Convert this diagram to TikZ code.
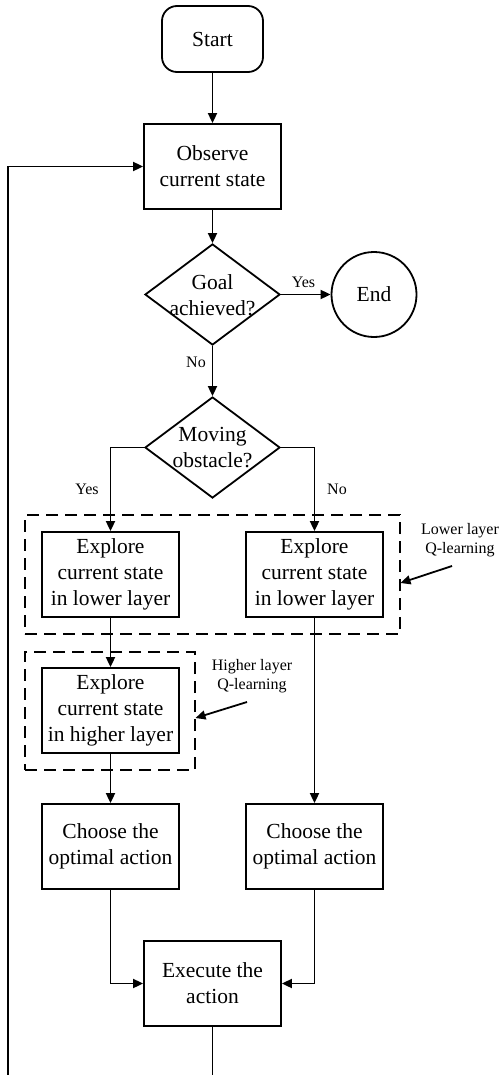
\documentclass[tikz,border=0pt]{standalone}
\usepackage{fontspec}
\setmainfont{Liberation Serif}
\usetikzlibrary{shapes.geometric,arrows.meta}
\begin{document}
\begin{tikzpicture}[x=1pt,y=-1pt,
  box/.style={draw, line width=1.8pt, minimum width=137pt, minimum height=85pt, inner sep=0pt, align=center, font=\fontsize{21.5}{26}\selectfont},
  dec/.style={draw, diamond, line width=1.8pt, minimum width=135pt, minimum height=101pt, inner sep=0pt},
  txt/.style={align=center, inner sep=0pt, font=\fontsize{21.5}{26}\selectfont},
  small/.style={align=center, inner sep=0pt, font=\fontsize{16}{19}\selectfont},
  arr/.style={line width=1.8pt, -{Triangle[length=10pt,width=9pt]}},
  dbox/.style={draw, line width=1.8pt, dash pattern=on 12pt off 7pt, inner sep=0pt}]
\useasboundingbox (0,0) rectangle (501,1075);

\node[box, rounded corners=15pt, minimum width=101pt, minimum height=66pt] (start) at (212.5,39) {Start};
\node[box] (obs) at (212.5,166.5) {Observe\\current state};
\node[dec] (goal) at (212.5,294.5) {};
\node[txt] (goaltxt) at (212.5,295) {Goal\\achieved?};
\node[draw, circle, line width=1.8pt, minimum size=85pt, inner sep=0pt, font=\fontsize{21.5}{26}\selectfont] (end) at (374,294.5) {End};
\node[dec] (mov) at (212.5,447.5) {};
\node[txt] (movtxt) at (212.5,448) {Moving\\obstacle?};

\node[dbox, minimum width=375pt, minimum height=119pt] (lowbox) at (212.5,574.5) {};
\node[dbox, minimum width=170pt, minimum height=118pt] (highbox) at (110,711) {};

\node[box] (exp1) at (110.5,574.5) {Explore\\current state\\in lower layer};
\node[box] (exp2) at (314.5,574.5) {Explore\\current state\\in lower layer};
\node[box] (exp3) at (110.5,710.5) {Explore\\current state\\in higher layer};
\node[box] (ch1) at (110.5,846.5) {Choose the\\optimal action};
\node[box] (ch2) at (314.5,846.5) {Choose the\\optimal action};
\node[box] (exec) at (212.5,983.5) {Execute the\\action};

\node[small] (lowlbl) at (460,540.5) {Lower layer\\Q-learning};
\node[small] (highlbl) at (252,676) {Higher layer\\Q-learning};

\node[small] (yes1) at (303.5,282) {Yes};
\node[small] (no1) at (196,362) {No};
\node[small] (yes2) at (87,489) {Yes};
\node[small] (no2) at (337,489) {No};

\coordinate (lowA) at (452,566);
\coordinate (lowB) at (400.5,583);
\coordinate (highA) at (247,702);
\coordinate (highB) at (195.5,718);
\coordinate (loopc) at (8,1090);

\draw[arr] (start) -- (obs);
\draw[arr] (obs) -- (goal);
\draw[arr] (goal) -- (end);
\draw[arr] (goal) -- (mov);
\draw[arr] (mov.west) -| (exp1.north);
\draw[arr] (mov.east) -| (exp2.north);
\draw[arr] (exp1) -- (exp3);
\draw[arr] (exp3) -- (ch1);
\draw[arr] (exp2) -- (ch2);
\draw[arr] (ch1.south) |- (exec.west);
\draw[arr] (ch2.south) |- (exec.east);
\draw[arr] (exec.south) |- (loopc) |- (obs.west);
\draw[arr] (lowA) -- (lowB);
\draw[arr] (highA) -- (highB);
\end{tikzpicture}
\end{document}
